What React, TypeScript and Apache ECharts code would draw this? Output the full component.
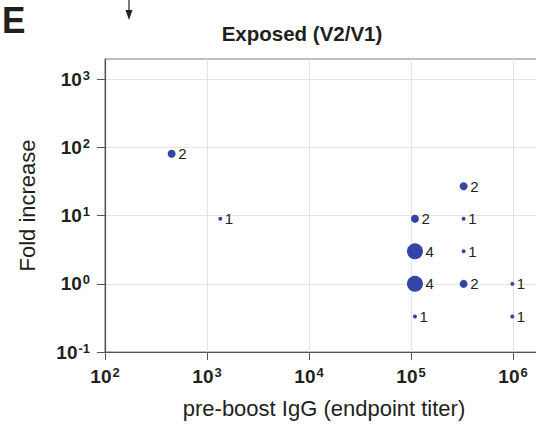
import React, { useEffect, useRef } from "react";
import * as echarts from "echarts";

const titers = [450, 1350, 109350, 109350, 109350, 109350, 328050, 328050, 328050, 328050, 984150, 984150];
const folds = [81, 9, 9, 3, 1, 0.333, 27, 9, 3, 1, 1, 0.333];
const counts = [2, 1, 2, 4, 4, 1, 2, 1, 1, 2, 1, 1];
const xTicks = [100, 1000, 10000, 100000, 1000000, 10000000];
const xLabels = [100, 1000, 10000, 100000, 1000000];
const yTicks = [0.1, 1, 10, 100, 1000];

const INK = "#231f20";
const DOT = "#3346a8";
const FONT = "Liberation Sans, Arial, sans-serif";

const supLabel = (v: number) => {
  const e = Math.round(Math.log10(v));
  return `{b|10}{s|${e}}`;
};

export default function App() {
  const ref = useRef<HTMLDivElement>(null);
  useEffect(() => {
    if (!ref.current) return;
    const chart = echarts.init(ref.current, null, { renderer: "svg" });
    const rich = {
      b: { fontSize: 19, fontWeight: "bold", color: INK, fontFamily: FONT },
      s: { fontSize: 13, fontWeight: "bold", color: INK, fontFamily: FONT, verticalAlign: "top", padding: [0, 0, 8, 1] },
    };
    chart.setOption({
      animation: false,
      textStyle: { fontFamily: FONT },
      title: {
        text: "Exposed (V2/V1)",
        left: 297,
        top: 18,
        textAlign: "center",
        textStyle: { fontSize: 20.5, fontWeight: "bold", color: INK },
      },
      graphic: [
        { type: "text", x: 2, y: 4, scaleX: 0.95, style: { text: "E", fontSize: 37, lineHeight: 32, fontWeight: "bold", fill: INK, fontFamily: FONT, verticalAlign: "top" } },
        { type: "line", shape: { x1: 129, y1: 0, x2: 129, y2: 12 }, style: { stroke: INK, lineWidth: 1.2 } },
        { type: "polygon", shape: { points: [[125.5, 10], [132.5, 10], [129, 20]] }, style: { fill: INK } },
        { type: "text", x: 324, y: 397, style: { text: "pre-boost IgG (endpoint titer)", fontSize: 22, fill: INK, fontFamily: FONT, align: "center", verticalAlign: "top" } },
      ],
      grid: {
        left: 105,
        top: 59,
        width: 510,
        height: 293,
        show: true,
        borderColor: "#7a7a7a",
        borderWidth: 1,
        backgroundColor: "transparent",
        containLabel: false,
        outerBoundsMode: "none",
      },
      xAxis: {
        type: "log",
        logBase: 10,
        min: 100,
        max: 10000000,
        axisLine: { lineStyle: { color: "#555", width: 1.2 } },
        axisTick: { show: true, length: 8, lineStyle: { color: "#555" }, customValues: xTicks },
        axisLabel: { margin: 14, formatter: supLabel, rich, customValues: xLabels },
        splitLine: { show: true, lineStyle: { color: "#e3e3e3", width: 1 } },
        minorTick: { show: false },
      },
      yAxis: {
        type: "log",
        logBase: 10,
        min: 0.1,
        max: 1995,
        name: "Fold increase",
        nameLocation: "middle",
        nameGap: 67,
        nameTextStyle: { fontSize: 22, color: INK },
        axisLine: { lineStyle: { color: "#555", width: 1.2 } },
        axisTick: { show: true, length: 8, lineStyle: { color: "#555" }, customValues: yTicks },
        axisLabel: { margin: 15, formatter: supLabel, rich, customValues: yTicks },
        splitLine: { show: true, lineStyle: { color: "#e3e3e3", width: 1 } },
      },
      series: [
        {
          type: "scatter",
          data: titers.map((t, i) => [t, folds[i], counts[i]]),
          symbolSize: (d: number[]) => 4 * d[2],
          itemStyle: { color: DOT, opacity: 1 },
          label: {
            show: true,
            position: "right",
            distance: 2.5,
            formatter: (p: any) => String(p.data[2]),
            fontSize: 15,
            color: INK,
          },
          clip: false,
        },
      ],
    });
    return () => chart.dispose();
  }, []);
  return <div ref={ref} style={{ position: "fixed", left: 0, top: 0, width: 536, height: 426, background: "#fff" }} />;
}
